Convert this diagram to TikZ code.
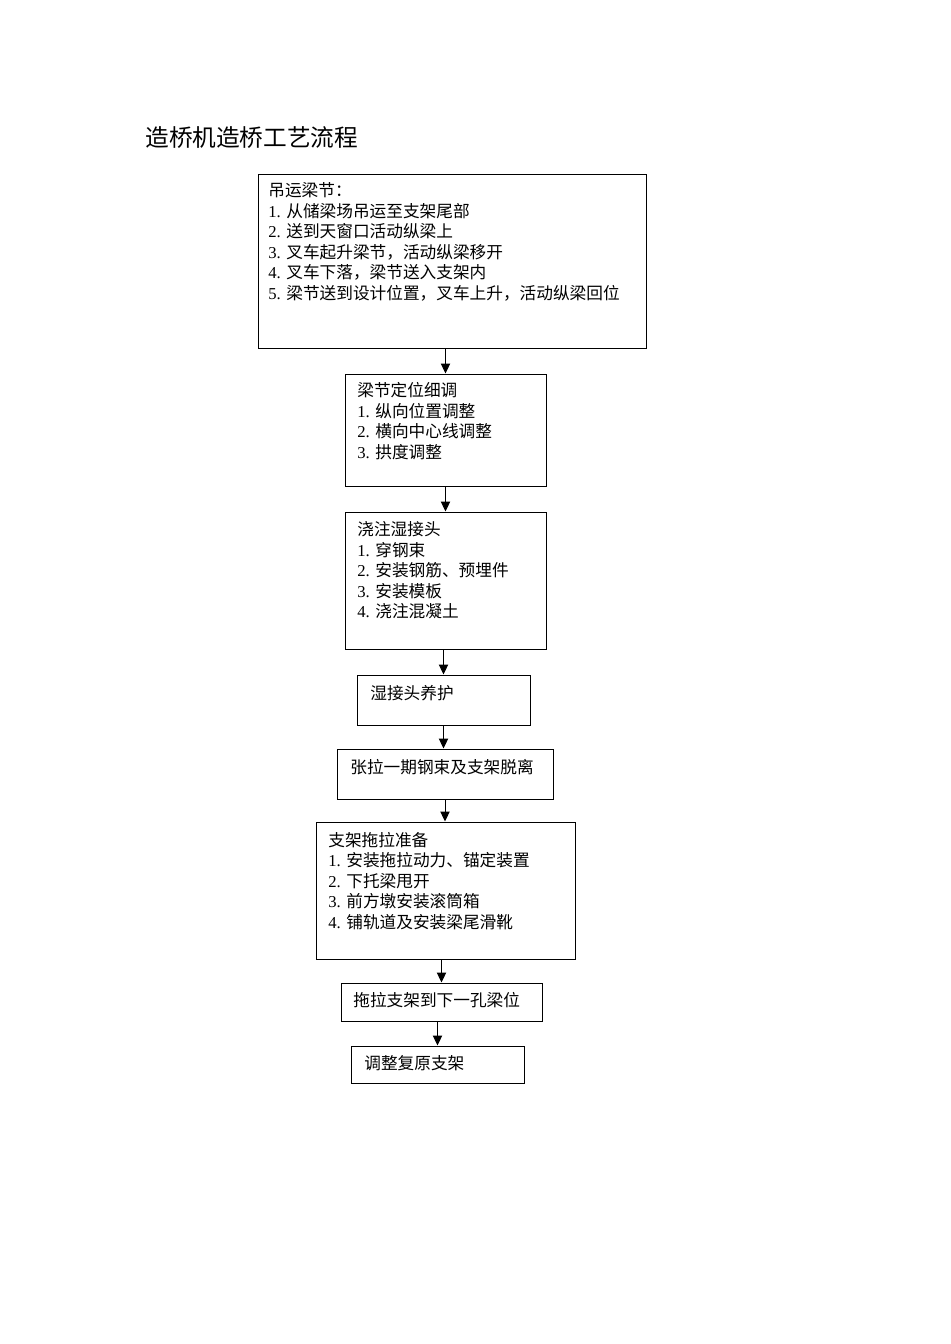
\documentclass[tikz,border=0pt]{standalone}
\usepackage{fontspec}
\setmainfont{Liberation Serif}
\newfontfamily\cjk{Noto Sans CJK SC}
\usetikzlibrary{arrows.meta}
\newcommand\rowln[1]{\hbox{#1}}
\newcommand\stack[1]{\vtop{\baselineskip=12.3pt\lineskiplimit=-10pt #1}}
\begin{document}
\begin{tikzpicture}[x=0.6pt,y=-0.6pt,
  box/.style={draw=black,line width=0.6pt,rectangle,inner sep=0pt},
  txt/.style={anchor=base west,inner sep=0pt,font=\fontsize{10pt}{12.3pt}\selectfont},
  arr/.style={draw=black,line width=0.6pt,-{Triangle[length=6pt,width=5.6pt]}}]
\useasboundingbox (0,0) rectangle (950,1344);
% title
\node[anchor=base west,inner sep=0pt,font=\cjk\fontsize{14.2pt}{17pt}\selectfont] (title) at (145,146) {造桥机造桥工艺流程};
% boxes
\node[box,minimum width=388*0.6pt,minimum height=174*0.6pt] (b1) at (452,261) {};
\node[box,minimum width=201*0.6pt,minimum height=112*0.6pt] (b2) at (445.5,430) {};
\node[box,minimum width=201*0.6pt,minimum height=137*0.6pt] (b3) at (445.5,580.5) {};
\node[box,minimum width=173*0.6pt,minimum height=50*0.6pt] (b4) at (443.5,700) {};
\node[box,minimum width=216*0.6pt,minimum height=50*0.6pt] (b5) at (445,774) {};
\node[box,minimum width=259*0.6pt,minimum height=137*0.6pt] (b6) at (445.5,890.5) {};
\node[box,minimum width=201*0.6pt,minimum height=38*0.6pt] (b7) at (441.5,1002) {};
\node[box,minimum width=173*0.6pt,minimum height=37*0.6pt] (b8) at (437.5,1064.5) {};
% texts
\node[txt] (t1) at (268,196.5) {\stack{%
  \rowln{\cjk 吊运梁节：}%
  \rowln{1. {\cjk 从储梁场吊运至支架尾部}}%
  \rowln{2. {\cjk 送到天窗口活动纵梁上}}%
  \rowln{3. {\cjk 叉车起升梁节，活动纵梁移开}}%
  \rowln{4. {\cjk 叉车下落，梁节送入支架内}}%
  \rowln{5. {\cjk 梁节送到设计位置，叉车上升，活动纵梁回位}}}};
\node[txt] (t2) at (357,396.5) {\stack{%
  \rowln{\cjk 梁节定位细调}%
  \rowln{1. {\cjk 纵向位置调整}}%
  \rowln{2. {\cjk 横向中心线调整}}%
  \rowln{3. {\cjk 拱度调整}}}};
\node[txt] (t3) at (357,535.5) {\stack{%
  \rowln{\cjk 浇注湿接头}%
  \rowln{1. {\cjk 穿钢束}}%
  \rowln{2. {\cjk 安装钢筋、预埋件}}%
  \rowln{3. {\cjk 安装模板}}%
  \rowln{4. {\cjk 浇注混凝土}}}};
\node[txt] (t4) at (370,699) {\cjk 湿接头养护};
\node[txt] (t5) at (350,773) {\cjk 张拉一期钢束及支架脱离};
\node[txt] (t6) at (328,846.3) {\stack{%
  \rowln{\cjk 支架拖拉准备}%
  \rowln{1. {\cjk 安装拖拉动力、锚定装置}}%
  \rowln{2. {\cjk 下托梁甩开}}%
  \rowln{3. {\cjk 前方墩安装滚筒箱}}%
  \rowln{4. {\cjk 铺轨道及安装梁尾滑靴}}}};
\node[txt] (t7) at (353,1006.3) {\cjk 拖拉支架到下一孔梁位};
\node[txt] (t8) at (364,1069.6) {\cjk 调整复原支架};
% connectors
\draw[arr] (b1.south -| b2.north) -- (b2.north);
\draw[arr] (b2.south) -- (b3.north);
\draw[arr] (b3.south -| b4.north) -- (b4.north);
\draw[arr] (b4.south) -- (b4.south |- b5.north);
\draw[arr] (b5.south) -- (b5.south |- b6.north);
\draw[arr] (b6.south -| b7.north) -- (b7.north);
\draw[arr] (b7.south -| b8.north) -- (b8.north);
\end{tikzpicture}
\end{document}
